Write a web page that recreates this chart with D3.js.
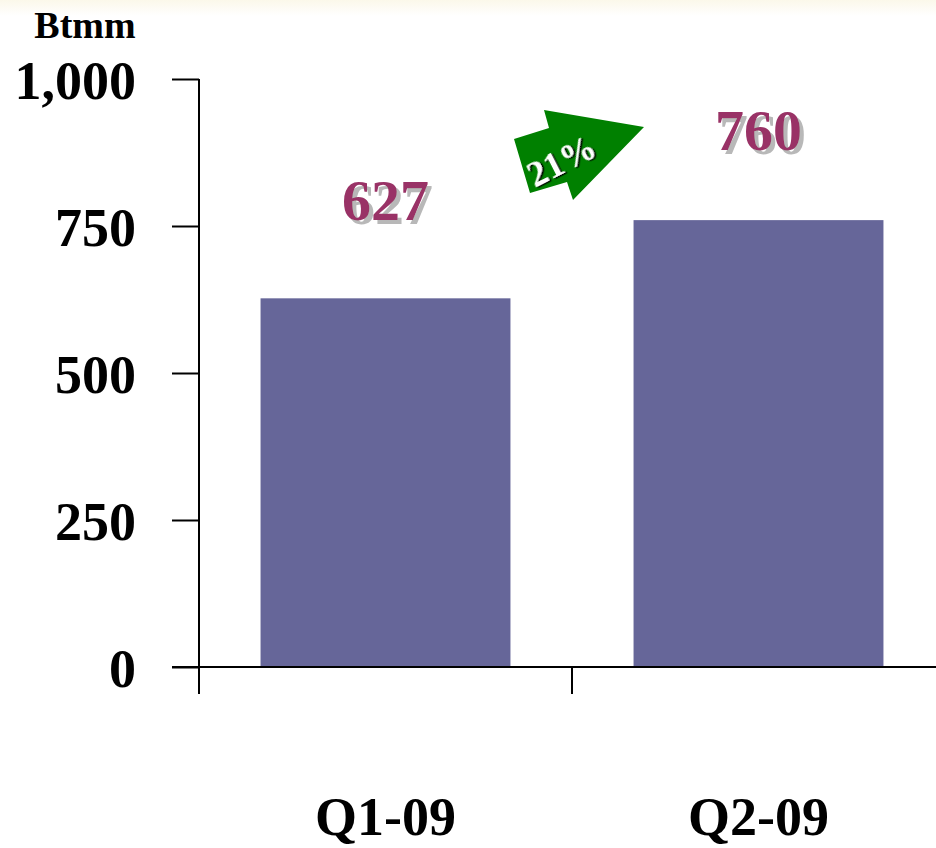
<!DOCTYPE html>
<html>
<head>
<meta charset="utf-8">
<script src="https://cdn.jsdelivr.net/npm/d3@7"></script>
<style>
  body { margin: 0; background: #fff; }
  svg { display: block; font-family: "Liberation Serif", "Times New Roman", serif; font-weight: bold; }
</style>
</head>
<body>
<div id="wrapper"></div>
<script>
// data
const quarters = ['Q1-09', 'Q2-09']
const volumes = [627, 760]
const yTicks = [0, 250, 500, 750, 1000]
const growthLabel = '21%'
const unitLabel = 'Btmm'

const width = 936
const height = 848
const margin = { top: 79, right: -9, bottom: 181, left: 199 }
const boundedWidth = width - margin.left - margin.right
const boundedHeight = height - margin.top - margin.bottom

const svg = d3.select('#wrapper')
  .append('svg')
  .attr('width', width)
  .attr('height', height)

const defs = svg.append('defs')
// faint warm band at the very top
const grad = defs.append('linearGradient')
  .attr('id', 'topband').attr('x1', 0).attr('x2', 0).attr('y1', 0).attr('y2', 1)
grad.append('stop').attr('offset', '0%').attr('stop-color', '#fbf8ea')
grad.append('stop').attr('offset', '100%').attr('stop-color', '#ffffff')
svg.append('rect').attr('width', width).attr('height', 16).attr('fill', 'url(#topband)')

// hard drop shadows for the labels
defs.append('filter').attr('id', 'greyShadow')
  .attr('x', '-10%').attr('y', '-10%').attr('width', '130%').attr('height', '130%')
  .append('feDropShadow')
  .attr('dx', 4).attr('dy', 4).attr('stdDeviation', 0.4)
  .attr('flood-color', '#b8b8b8').attr('flood-opacity', 1)
defs.append('filter').attr('id', 'darkShadow')
  .attr('x', '-10%').attr('y', '-10%').attr('width', '130%').attr('height', '130%')
  .append('feDropShadow')
  .attr('dx', 1.5).attr('dy', 1.5).attr('stdDeviation', 0.3)
  .attr('flood-color', '#000').attr('flood-opacity', 1)

const bounds = svg.append('g')
  .attr('transform', `translate(${margin.left},${margin.top})`)

// scales
const xScale = d3.scaleBand()
  .domain(quarters)
  .range([0, boundedWidth])
  .paddingInner(0.33)
  .paddingOuter(0.165)

const bandStep = boundedWidth / quarters.length
const yScale = d3.scaleLinear()
  .domain([0, 1000])
  .range([boundedHeight, 0])

// bars
bounds.selectAll('.bar')
  .data(volumes)
  .join('rect')
  .attr('class', 'bar')
  .attr('x', (d, i) => xScale(quarters[i]))
  .attr('y', d => yScale(d))
  .attr('width', xScale.bandwidth())
  .attr('height', d => boundedHeight - yScale(d))
  .attr('fill', '#666699')

// y axis
const yAxis = bounds.append('g')
  .call(d3.axisLeft(yScale).tickValues(yTicks).tickSize(27).tickSizeOuter(0).tickFormat(d3.format(',')))
yAxis.select('.domain').remove()
yAxis.selectAll('.tick line').attr('stroke', '#000').attr('stroke-width', 2)
yAxis.selectAll('.tick text')
  .attr('x', -63)
  .attr('dy', '0.36em')
  .attr('font-size', 54)
  .attr('font-family', '"Liberation Serif", serif')
  .attr('font-weight', 'bold')
  .attr('fill', '#000')
bounds.append('line')
  .attr('x1', 0).attr('x2', 0)
  .attr('y1', yScale(1000)).attr('y2', boundedHeight + 27)
  .attr('stroke', '#000').attr('stroke-width', 2)

// x axis
bounds.append('line')
  .attr('x1', -27).attr('x2', boundedWidth)
  .attr('y1', boundedHeight).attr('y2', boundedHeight)
  .attr('stroke', '#000').attr('stroke-width', 2)
bounds.selectAll('.xtick')
  .data(quarters.slice(1))
  .join('line')
  .attr('class', 'xtick')
  .attr('x1', (d, i) => bandStep * (i + 1))
  .attr('x2', (d, i) => bandStep * (i + 1))
  .attr('y1', boundedHeight).attr('y2', boundedHeight + 27)
  .attr('stroke', '#000').attr('stroke-width', 2)
bounds.selectAll('.xlabel')
  .data(quarters)
  .join('text')
  .attr('class', 'xlabel')
  .attr('x', d => xScale(d) + xScale.bandwidth() / 2)
  .attr('y', boundedHeight + 168)
  .attr('text-anchor', 'middle')
  .attr('font-size', 54)
  .text(d => d)

// unit label
svg.append('text')
  .attr('x', 85).attr('y', 38)
  .attr('text-anchor', 'middle')
  .attr('font-size', 38)
  .text(unitLabel)

// value labels
const labelLift = [78, 70]
bounds.selectAll('.value')
  .data(volumes)
  .join('text')
  .attr('class', 'value')
  .attr('x', (d, i) => xScale(quarters[i]) + xScale.bandwidth() / 2)
  .attr('y', (d, i) => yScale(d) - labelLift[i])
  .attr('text-anchor', 'middle')
  .attr('font-size', 58)
  .attr('fill', '#993366')
  .attr('filter', 'url(#greyShadow)')
  .text(d => d)

// growth arrow (shape relative to the tail centre)
const arrowOrigin = [522, 166]
const arrowPts = [[-8, -27], [27, -38], [22, -56], [122, -39], [51, 34], [45, 16], [8, 27]]
const arrowG = svg.append('g')
  .attr('transform', `translate(${arrowOrigin[0]},${arrowOrigin[1]})`)
arrowG.append('path')
  .attr('d', d3.line()(arrowPts) + 'Z')
  .attr('fill', '#008000')
arrowG.append('text')
  .attr('transform', 'translate(39,-6) rotate(-27)')
  .attr('text-anchor', 'middle')
  .attr('dy', '0.35em')
  .attr('font-family', '"Liberation Serif", serif')
  .attr('font-weight', 'bold')
  .attr('font-size', 36)
  .attr('fill', '#fff')
  .attr('filter', 'url(#darkShadow)')
  .text(growthLabel)
</script>
</body>
</html>
